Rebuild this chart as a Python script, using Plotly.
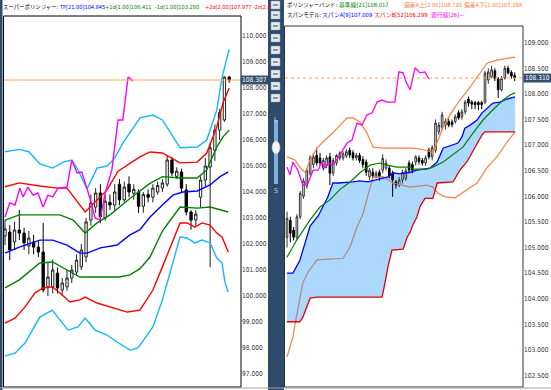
import plotly.graph_objects as go

W, H = 551, 390
FONT = "DejaVu Sans Condensed, Noto Sans CJK JP, sans-serif"

# ================= LEFT CHART (Super Bollinger) =================
L_OPEN = [102.31,102.46,102.08,102.54,102.42,101.92,102.08,101.88,101.69,100.35,
          100.35,100.88,100.23,100.35,100.69,100.92,101.12,101.50,102.92,103.42,
          103.96,103.00,103.60,103.50,104.30,103.70,104.30,103.95,104.00,103.45,
          103.90,103.80,104.00,104.15,104.30,105.23,104.60,104.77,104.08,103.23,
          102.92,103.80,104.46,104.96,105.60,106.38,106.77,108.42]
L_HIGH = [102.92,102.73,102.85,103.31,102.62,102.50,102.35,102.10,102.81,101.30,
          101.40,101.10,100.70,101.00,101.20,101.60,102.00,103.00,103.90,104.15,
          104.30,103.90,103.90,104.30,104.50,104.40,104.60,104.30,104.10,104.00,
          104.10,104.30,104.40,104.50,105.40,105.35,104.95,104.90,104.30,103.30,
          103.30,104.60,105.30,105.90,106.60,107.20,108.45,108.47]
L_LOW = [101.96,101.38,101.77,102.15,101.77,101.60,101.60,101.50,100.15,100.00,
         100.10,100.10,100.00,100.20,100.50,100.80,101.00,101.30,102.70,103.20,
         102.80,102.90,103.30,103.30,103.50,103.60,103.80,103.70,103.20,103.20,
         103.60,103.60,103.90,104.00,104.20,104.60,104.50,104.00,103.10,102.55,
         102.70,103.40,104.20,101.10,105.20,106.00,106.70,108.20]
L_CLOSE = [102.58,101.77,102.54,102.42,102.04,102.23,101.88,101.69,100.23,100.73,
           101.00,100.31,100.50,100.69,101.00,101.38,101.77,102.85,103.58,103.96,
           103.04,103.65,103.50,104.00,103.70,104.19,104.00,104.10,103.45,103.90,
           103.80,104.15,104.25,104.35,105.23,104.73,104.80,104.15,103.23,102.92,
           103.15,104.46,105.00,105.70,106.38,107.05,108.42,108.307]
L_IDX = list(range(len(L_CLOSE)))
L_LAST = 108.307
L_TICKS = [97, 98, 99, 100, 101, 102, 103, 104, 105, 106, 107, 108, 109, 110]

# +3 sigma (light blue)
L_P3_X = [0, 3, 5, 7.3, 10, 12.2, 14, 15.3, 17.2, 19.3, 21.4, 23, 24.7, 26.6, 28.3, 31, 33, 36.7, 40.3, 42.3, 44.4, 45.5, 47]
L_P3_Y = [105.55,105.64,105.55,105.08,104.92,105.15,105.23,104.85,104.12,104.92,105.00,105.30,105.88,106.38,106.85,106.96,106.77,105.70,105.73,106.00,107.15,108.40,109.49]
# +2 sigma (red)
L_P2_X = [0, 3, 7.3, 11, 13, 15, 16.8, 19.3, 21.4, 23.7, 26.2, 28.3, 30.4, 33, 36.7, 40.3, 42.3, 44.4, 45.7, 47]
L_P2_Y = [104.20,104.35,104.23,104.15,104.15,103.69,103.23,103.69,104.08,104.80,105.10,105.35,105.54,105.50,105.12,105.15,105.50,106.50,107.42,108.00]
# +1 sigma (green)
L_P1_X = [0, 3, 11.5, 14.3, 16.8, 19.3, 22, 26.2, 30.4, 33, 36.7, 40.3, 42.3, 44.4, 45.7, 47]
L_P1_Y = [102.92,103.12,103.12,102.92,102.42,102.81,103.12,103.75,104.33,104.59,104.54,104.54,104.85,105.73,106.12,106.38]
# TP (blue)
L_TP_X = [0, 3, 7.3, 10, 13, 15.7, 17.2, 20, 23.5, 26.2, 28.3, 30.4, 33, 35.2, 37.3, 40.3, 43, 45, 46.8]
L_TP_Y = [101.65,101.88,102.15,102.15,101.96,101.65,101.65,101.85,101.96,102.35,102.55,103.04,103.50,103.88,104.00,104.04,104.27,104.58,104.77]
# -1 sigma (green)
L_M1_X = [0, 3, 7.3, 10, 13, 15.7, 20, 24, 26.2, 28.3, 30.4, 33, 35, 36.7, 40.3, 43, 46.8]
L_M1_Y = [100.31,100.62,101.27,101.31,101.00,100.73,100.73,100.73,100.81,101.05,101.50,102.50,103.00,103.42,103.38,103.42,103.23]
# -2 sigma (red)
L_M2_X = [0, 2.1, 4.2, 6.3, 8, 10, 12, 13.6, 15.7, 16.8, 19.3, 22, 25.6, 28.3, 31, 33, 36.7, 38.2, 39.8, 41.3, 43, 44.4, 45.5, 46.8]
L_M2_Y = [98.96,99.15,99.58,100.12,100.31,100.35,100.04,99.77,99.85,99.96,99.73,99.58,99.38,99.46,100.23,101.12,102.81,102.81,102.65,102.81,102.73,102.42,102.27,101.69]
# -3 sigma (light blue)
L_M3_X = [0, 2.1, 4.2, 6.3, 7.3, 9.9, 11.5, 13.2, 15.3, 16.8, 18.9, 21.4, 23.5, 26.2, 27.9, 31, 33, 36.7, 38.2, 39.8, 41.3, 43, 44.4, 45.5, 46.1, 46.8]
L_M3_Y = [97.69,97.80,98.19,98.88,99.19,99.46,99.08,98.69,98.81,99.15,98.69,98.50,98.23,97.92,98.00,98.81,99.85,102.27,102.23,102.04,102.15,102.04,101.46,101.27,100.54,100.15]
# lagging span (magenta)
L_LAG_X = [0, 1, 2.1, 3.1, 3.8, 4.8, 5.9, 6.9, 8, 9, 10, 11.1, 13, 14, 15.1, 16.1, 17.8, 18.9, 19.9, 21, 22.4, 23.7, 24.7, 25.8, 26.8]
L_LAG_Y = [103.04,103.58,103.50,104.15,103.81,104.19,103.88,103.96,103.42,103.88,103.81,104.15,104.19,105.23,104.73,104.77,103.77,103.00,102.92,103.96,104.85,106.77,106.77,108.42,108.27]

# ================= RIGHT CHART (Bollinger + Span model) =================
R_OPEN = [105.20,105.53,105.34,105.20,105.60,106.00,106.20,106.45,106.62,106.80,
          106.75,106.55,106.60,106.77,106.45,106.65,106.75,106.75,106.79,106.90,
          106.85,106.75,106.80,106.72,106.67,106.38,106.47,106.40,106.47,106.51,
          106.55,106.55,106.45,106.28,106.22,106.32,106.35,106.65,106.62,106.67,
          106.75,106.70,106.65,106.90,106.77,106.90,107.26,107.35,107.39,107.46,
          107.45,107.46,107.63,107.55,107.65,107.90,107.84,107.83,107.83,107.83,
          107.84,108.27,108.33,108.45,108.29,108.08,108.31,108.50,108.42,108.36]
R_HIGH = [105.70,105.60,105.40,105.65,106.10,106.35,106.55,106.80,106.85,106.95,
          106.85,106.75,106.80,106.85,106.75,106.82,106.88,106.88,106.92,106.95,
          106.90,106.85,106.85,106.78,106.72,106.55,106.55,106.50,106.52,106.82,
          106.72,106.60,106.50,106.32,106.38,106.52,106.55,106.70,106.68,106.80,
          106.80,106.75,106.80,106.95,107.00,107.50,107.45,107.65,107.52,107.52,
          107.50,107.60,107.68,107.70,107.88,107.95,107.88,107.86,107.86,107.86,
          108.45,108.50,108.55,108.50,108.33,108.35,108.55,108.55,108.46,108.42]
R_LOW = [105.00,105.10,105.14,105.15,105.55,105.95,106.15,106.40,106.55,106.60,
         106.60,106.50,106.55,106.22,106.40,106.60,106.70,106.70,106.75,106.75,
         106.70,106.70,106.65,106.55,106.40,106.32,106.35,106.35,106.30,106.45,
         106.50,106.35,105.99,106.15,106.18,106.25,106.30,106.45,106.45,106.60,
         106.62,106.60,106.60,106.72,106.70,106.85,107.20,107.30,107.30,107.35,
         107.35,107.42,107.50,107.50,107.60,107.75,107.70,107.70,107.68,107.70,
         107.80,108.20,108.30,108.25,107.92,108.05,108.28,108.38,108.30,108.25]
R_CLOSE = [105.57,105.28,105.20,105.60,106.06,106.30,106.50,106.75,106.77,106.65,
           106.65,106.70,106.75,106.45,106.70,106.80,106.85,106.83,106.87,106.81,
           106.75,106.80,106.70,106.62,106.47,106.51,106.40,106.45,106.38,106.74,
           106.65,106.40,106.32,106.22,106.32,106.47,106.50,106.51,106.51,106.77,
           106.68,106.65,106.75,106.77,106.95,107.43,107.39,107.59,107.46,107.39,
           107.40,107.55,107.53,107.65,107.84,107.82,107.80,107.79,107.79,107.79,
           108.41,108.43,108.47,108.30,108.08,108.30,108.50,108.41,108.35,108.31]
R_IDX = list(range(len(R_CLOSE)))
R_LAST = 108.310
R_TICKS = [102.5, 103.0, 103.5, 104.0, 104.5, 105.0, 105.5, 106.0, 106.5, 107.0, 107.5, 108.0, 108.5, 109.0]

# span B (red)
R_SB_X = [0, 3.9, 4.8, 7, 9.1, 28.8, 29.7, 30.6, 31.8, 35.2, 36.4, 37.3, 38.2, 39.4, 40.3, 41.8, 44.2, 45.5, 50.3, 52.4, 54.5, 56.4, 59.1, 60, 69.1]
R_SB_Y = [103.55,103.55,103.64,104.01,104.03,104.03,104.31,104.62,104.95,104.97,105.20,105.30,105.45,105.60,105.80,105.96,105.96,106.26,106.28,106.51,106.67,106.90,107.20,107.26,107.26]
# span A (blue)
R_SA_X = [0, 1.8, 3.9, 6.1, 7, 9.5, 12.4, 13.9, 15.5, 20, 22.1, 24.5, 27.3, 30.6, 32.1, 34.2, 37.3, 39.4, 43.3, 45.5, 47.3, 50, 51.8, 53, 53.9, 55.5, 57.6, 59.1, 60.9, 62.4, 64.5, 66.7, 69.1]
R_SA_Y = [104.50,104.50,104.75,105.25,105.42,105.62,105.99,106.26,106.26,106.28,106.30,106.28,106.32,106.38,106.46,106.44,106.47,106.51,106.55,106.67,106.94,107.00,107.04,107.16,107.33,107.39,107.49,107.63,107.74,107.82,107.84,107.90,107.94]
# middle band (green)
R_MID_X = [0, 3, 7, 10, 13, 16, 19.1, 22.1, 25.2, 28.2, 30.3, 33.3, 37.3, 38.2, 42.4, 44.2, 47.3, 50.3, 53.3, 56.4, 59.4, 62.4, 65.5, 67.6, 69.1]
R_MID_Y = [104.81,105.15,105.54,105.79,105.93,106.13,106.28,106.46,106.61,106.65,106.61,106.57,106.57,106.53,106.53,106.57,106.67,106.81,106.96,107.24,107.49,107.69,107.88,107.98,108.02]
# upper band (orange)
R_UP_X = [0, 2.4, 3.9, 5.5, 7, 9.1, 10.9, 13.9, 18.2, 20, 22.1, 24.2, 26.1, 29.1, 33.3, 38.2, 42.4, 44.2, 45.8, 47.3, 49.4, 52.4, 55.5, 58.5, 60.6, 63.6, 66.7, 69.1]
R_UP_Y = [106.77,106.71,106.57,106.46,106.71,106.94,107.06,107.24,107.53,107.53,107.45,107.24,106.96,106.94,106.94,106.94,106.90,106.85,107.10,107.35,107.59,107.88,108.13,108.41,108.60,108.66,108.70,108.72]
# lower band (orange; brownish where it runs inside the cloud)
R_LO_X = [0, 1.8, 2.5, 3.3, 4.8, 6.4, 9.1, 17, 19.1, 21.2, 23, 25.2, 26.1, 29.1, 32.1, 37.3, 42.4, 44.2, 45, 45.8, 47.9, 50.9, 54.5, 57.6, 60.6, 63.6, 66.7, 69.1]
R_LO_Y = [102.86,103.25,103.52,103.78,104.31,104.52,104.76,104.79,105.01,105.40,105.65,106.18,106.38,106.38,106.26,106.18,106.22,106.18,106.12,106.06,105.99,105.97,106.13,106.26,106.56,106.77,107.06,107.26]
R_LO_IN = (2, 19)   # slice of the lower band that lies inside the cloud
# lagging span (magenta)
R_LAG_X = [0, 0.9, 1.8, 3.3, 4.8, 6.4, 7.9, 9.4, 10.6, 11.5, 12.4, 13.9, 15.5, 18.2, 19.7, 21.2, 22.7, 24.2, 25.8, 27.3, 28.8, 30.3, 32.7, 33.9, 35.2, 36.1, 37.3, 38.8, 40.3, 41.8, 43]
R_LAG_Y = [106.57,106.42,106.67,106.51,106.22,106.26,106.51,106.51,106.67,106.55,106.65,106.61,106.75,107.04,107.10,107.43,107.39,107.59,107.63,107.84,107.88,107.84,107.84,108.43,108.41,108.23,108.08,108.51,108.41,108.43,108.29]

# ================= texts =================
L_HEAD = [("スーパーボリンジャー:", "#000000", 1, 5.4),
          ("TP[21.00]104.845", "#0000FF", 57, 5.6),
          ("+1σ[1.00]106.411", "#008000", 103, 5.6),
          ("-1σ[1.00]103.280", "#008000", 153, 5.6),
          ("+2σ[2.00]107.977", "#FF0000", 203, 5.6),
          ("-2σ[2.0", "#FF0000", 251, 5.4)]
R_HEAD1 = [("ボリンジャーバンド:", "#000000", 285, 5.4),
           ("基準線[21]108.017", "#008000", 337, 5.8),
           ("偏差A上[2.00]108.735", "#FF7F3F", 402, 5.8),
           ("偏差A下[2.00]107.298", "#FF7F3F", 462, 5.8)]
R_HEAD2 = [("スパンモデル:", "#000000", 285, 5.4),
           ("スパンA[9]107.009", "#0000FF", 320, 5.8),
           ("スパンB[52]106.299", "#FF0000", 372, 5.8),
           ("遅行線[26]—", "#FF00FF", 429, 5.8)]


def fx(px):
    return px / W


def fy(py):
    return 1 - py / H


# pixel calibration of the two panels
L_X0, L_DX = 5.0, 4.77          # px of bar 0, px per bar
L_Y110, L_PPU = 36.0, 26.0      # px of 110.000, px per unit
R_X0, R_DX = 287.0, 3.3
R_Y109, R_PPU = 42.7, 51.2

fig = go.Figure()


def add_line(xs, ys, color, xa, ya, width=1.4, **kw):
    fig.add_trace(go.Scatter(x=xs, y=ys, mode="lines", line=dict(color=color, width=width),
                             xaxis=xa, yaxis=ya, hoverinfo="skip", showlegend=False, **kw))


# ---- left traces ----
fig.add_trace(go.Candlestick(x=L_IDX, open=L_OPEN, high=L_HIGH, low=L_LOW, close=L_CLOSE,
                             increasing=dict(line=dict(color="#222222", width=1), fillcolor="white"),
                             decreasing=dict(line=dict(color="#000000", width=1), fillcolor="black"),
                             whiskerwidth=0, xaxis="x", yaxis="y", showlegend=False, hoverinfo="skip"))
add_line(L_P3_X, L_P3_Y, "#10B8FF", "x", "y")
add_line(L_M3_X, L_M3_Y, "#10B8FF", "x", "y")
add_line(L_P2_X, L_P2_Y, "#FF0000", "x", "y")
add_line(L_M2_X, L_M2_Y, "#FF0000", "x", "y")
add_line(L_P1_X, L_P1_Y, "#008000", "x", "y")
add_line(L_M1_X, L_M1_Y, "#008000", "x", "y")
add_line(L_TP_X, L_TP_Y, "#0000FF", "x", "y")
add_line(L_LAG_X, L_LAG_Y, "#FF00FF", "x", "y")

# ---- right traces: base layer (lower band under the cloud + cloud) ----
add_line(R_LO_X, R_LO_Y, "#FF7F3F", "x2", "y2", width=1.2)
add_line(R_SB_X, R_SB_Y, "rgba(0,0,0,0)", "x2", "y2", width=0)
fig.add_trace(go.Scatter(x=R_SA_X, y=R_SA_Y, mode="lines", line=dict(width=0, color="rgba(0,0,0,0)"),
                         fill="tonexty", fillcolor="rgba(152,206,254,0.80)",
                         xaxis="x2", yaxis="y2", hoverinfo="skip", showlegend=False))
# ---- right traces: overlay layer ----
a, b = R_LO_IN
add_line(R_LO_X[a:b], R_LO_Y[a:b], "#B98A80", "x2", "y3", width=1.2)
fig.add_trace(go.Candlestick(x=R_IDX, open=R_OPEN, high=R_HIGH, low=R_LOW, close=R_CLOSE,
                             increasing=dict(line=dict(color="#333333", width=1), fillcolor="white"),
                             decreasing=dict(line=dict(color="#000000", width=1), fillcolor="black"),
                             whiskerwidth=0, xaxis="x2", yaxis="y3", showlegend=False, hoverinfo="skip"))
add_line(R_SB_X, R_SB_Y, "#E00000", "x2", "y3", width=1.3)
add_line(R_SA_X, R_SA_Y, "#0000FF", "x2", "y3", width=1.3)
add_line(R_MID_X, R_MID_Y, "#008000", "x2", "y3", width=1.2)
add_line(R_UP_X, R_UP_Y, "#FF7F3F", "x2", "y3", width=1.2)
add_line(R_LAG_X, R_LAG_Y, "#FF00FF", "x2", "y3", width=1.3)

tickfont = dict(family=FONT, size=6.6, color="#333333")
l_yrange = [110 - (387 - L_Y110) / L_PPU, 110 + (L_Y110 - 16) / L_PPU]
r_yrange = [109 - (387 - R_Y109) / R_PPU, 109 + (R_Y109 - 26) / R_PPU]

fig.update_layout(
    width=W, height=H, margin=dict(l=0, r=0, t=0, b=0),
    paper_bgcolor="white", plot_bgcolor="white",
    showlegend=False, hovermode=False, dragmode=False,
    xaxis=dict(domain=[fx(4), fx(241)], range=[(4 - L_X0) / L_DX, (241 - L_X0) / L_DX],
               visible=False, rangeslider=dict(visible=False), anchor="y"),
    yaxis=dict(domain=[fy(387), fy(16)], range=l_yrange, side="right", anchor="x",
               tickvals=L_TICKS, ticktext=[f"{v:.3f}" for v in L_TICKS],
               showgrid=False, zeroline=False, showline=False, ticks="", tickfont=tickfont),
    xaxis2=dict(domain=[fx(285), fx(523)], range=[(285 - R_X0) / R_DX, (523 - R_X0) / R_DX],
                visible=False, rangeslider=dict(visible=False), anchor="y2"),
    yaxis2=dict(domain=[fy(387), fy(26)], range=r_yrange, side="right", anchor="x2",
                tickvals=R_TICKS, ticktext=[f"{v:.3f}" for v in R_TICKS],
                showgrid=False, zeroline=False, showline=False, ticks="", tickfont=tickfont),
    yaxis3=dict(overlaying="y2", range=r_yrange, visible=False, anchor="x2"),
)

shapes = []
# current-price lines
shapes.append(dict(type="line", xref="x domain", yref="y", x0=0, x1=1, y0=L_LAST, y1=L_LAST,
                   line=dict(color="#FFA64D", width=1)))
shapes.append(dict(type="line", xref="x2 domain", yref="y2", x0=0, x1=1, y0=R_LAST, y1=R_LAST,
                   line=dict(color="#FFA64D", width=1, dash="dot")))
# window chrome
NAVY = "#2E4B6C"
shapes.append(dict(type="rect", xref="paper", yref="paper", x0=fx(0), x1=fx(2.5), y0=0, y1=1,
                   fillcolor=NAVY, line=dict(width=0), layer="above"))
shapes.append(dict(type="rect", xref="paper", yref="paper", x0=fx(268), x1=fx(284), y0=0, y1=1,
                   fillcolor=NAVY, line=dict(width=0), layer="above"))
for yy in [1, 11, 22, 34, 46, 58, 70, 82, 94]:
    shapes.append(dict(type="rect", xref="paper", yref="paper", x0=fx(271), x1=fx(280),
                       y0=fy(yy + 8), y1=fy(yy), fillcolor="#E6EAEE",
                       line=dict(color="#8899AA", width=0.5), layer="above"))
    shapes.append(dict(type="line", xref="paper", yref="paper", x0=fx(273), x1=fx(278),
                       y0=fy(yy + 4), y1=fy(yy + 4), line=dict(color="#334455", width=1), layer="above"))
shapes.append(dict(type="rect", xref="paper", yref="paper", x0=fx(274), x1=fx(278), y0=fy(184), y1=fy(120),
                   fillcolor="#7FAEE0", line=dict(width=0), layer="above"))
shapes.append(dict(type="circle", xref="paper", yref="paper", x0=fx(272), x1=fx(280), y0=fy(154), y1=fy(141),
                   fillcolor="#F4F6F8", line=dict(color="#AAB4C0", width=0.5), layer="above"))
# panel frames
shapes.append(dict(type="rect", xref="paper", yref="paper", x0=fx(3.5), x1=fx(241), y0=fy(387), y1=fy(16),
                   line=dict(color="#000000", width=1), layer="above"))
shapes.append(dict(type="rect", xref="paper", yref="paper", x0=fx(284.5), x1=fx(523), y0=fy(387), y1=fy(26),
                   line=dict(color="#333333", width=1), layer="above"))
shapes.append(dict(type="line", xref="paper", yref="paper", x0=fx(0), x1=fx(551), y0=fy(388), y1=fy(388),
                   line=dict(color="#A0A0A0", width=1), layer="above"))
# price tags
shapes.append(dict(type="rect", xref="paper", yref="y", x0=fx(241), x1=fx(268),
                   y0=L_LAST - 4.5 / L_PPU, y1=L_LAST + 4.5 / L_PPU,
                   fillcolor="#34506E", line=dict(width=0), layer="above"))
shapes.append(dict(type="rect", xref="paper", yref="y2", x0=fx(523.5), x1=fx(551),
                   y0=R_LAST - 4.5 / R_PPU, y1=R_LAST + 4.5 / R_PPU,
                   fillcolor="#34506E", line=dict(width=0), layer="above"))
fig.update_layout(shapes=shapes)

ann = []
for txt, col, x, sz in L_HEAD:
    ann.append(dict(text=txt, x=fx(x), y=fy(6.5), xref="paper", yref="paper", xanchor="left",
                    yanchor="middle", showarrow=False, font=dict(family=FONT, size=sz, color=col)))
for txt, col, x, sz in R_HEAD1:
    ann.append(dict(text=txt, x=fx(x), y=fy(5), xref="paper", yref="paper", xanchor="left",
                    yanchor="middle", showarrow=False, font=dict(family=FONT, size=sz, color=col)))
for txt, col, x, sz in R_HEAD2:
    ann.append(dict(text=txt, x=fx(x), y=fy(15), xref="paper", yref="paper", xanchor="left",
                    yanchor="middle", showarrow=False, font=dict(family=FONT, size=sz, color=col)))
ann.append(dict(text=f"{L_LAST:.3f}", x=fx(254.5), y=L_LAST, xref="paper", yref="y", xanchor="center",
                yanchor="middle", showarrow=False, font=dict(family=FONT, size=6.6, color="white")))
ann.append(dict(text=f"{R_LAST:.3f}", x=fx(537.5), y=R_LAST, xref="paper", yref="y2", xanchor="center",
                yanchor="middle", showarrow=False, font=dict(family=FONT, size=6.6, color="white")))
ann.append(dict(text="L", x=fx(276), y=fy(114), xref="paper", yref="paper", showarrow=False,
                font=dict(family=FONT, size=7, color="#C8D4E0")))
ann.append(dict(text="S", x=fx(276), y=fy(191), xref="paper", yref="paper", showarrow=False,
                font=dict(family=FONT, size=7, color="#C8D4E0")))
fig.update_layout(annotations=ann)

fig.write_html("out.html")
